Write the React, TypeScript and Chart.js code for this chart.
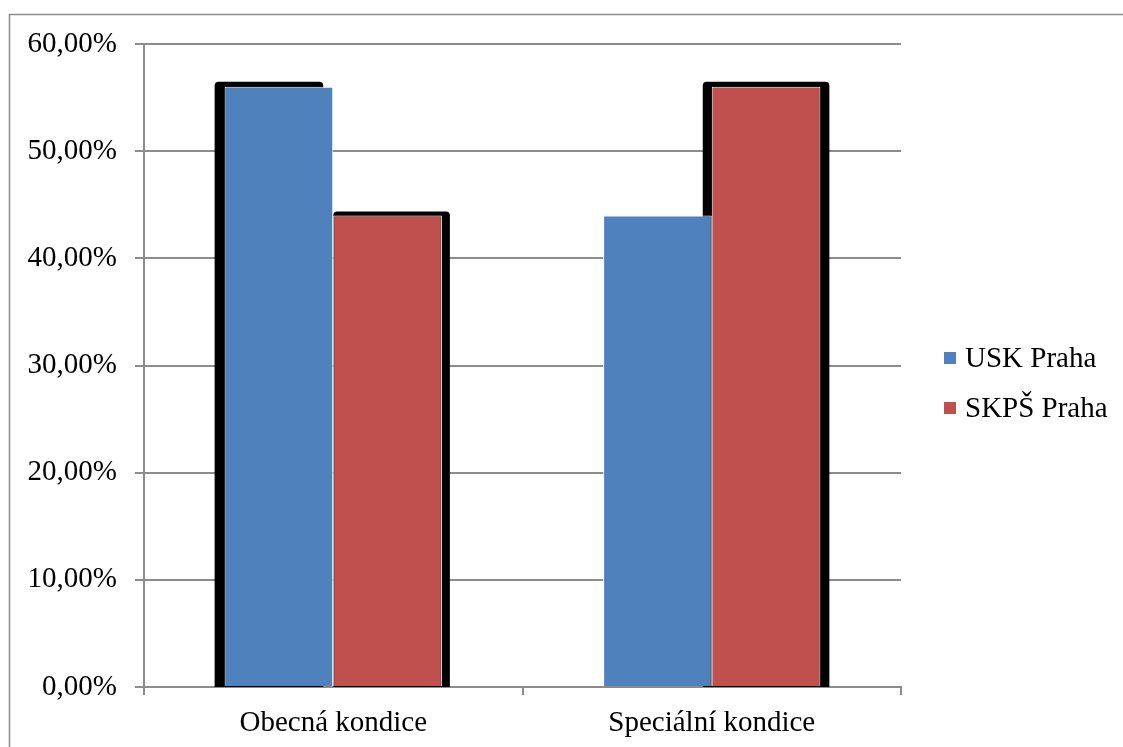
import React, { useEffect, useRef } from "react";
import { Chart, registerables } from "chart.js";

Chart.register(...registerables);

// Categories, series and axis ticks
const categories = ["Obecná kondice", "Speciální kondice"];
const uskPraha = [56, 44];
const skpsPraha = [44, 56];
const seriesLabels = ["USK Praha", "SKPŠ Praha"];
const yTicks = [0, 10, 20, 30, 40, 50, 60];

const BLUE = "#4F81BD";
const RED = "#C0504D";
const GRID = "#8c8c8c";
const FONT = "'Liberation Serif', 'Times New Roman', serif";

// Drop-shadow extents per series / category: [left grow, right grow, top grow] in px, null = no shadow
const shadowSpec: (number[] | null)[][] = [
  [[10, -10, 5], null],
  [[0, 8, 4], [9, 9, 5]],
];

function roundTopRect(ctx: CanvasRenderingContext2D, l: number, t: number, r: number, b: number, rad: number) {
  ctx.beginPath();
  ctx.moveTo(l, b);
  ctx.lineTo(l, t + rad);
  ctx.quadraticCurveTo(l, t, l + rad, t);
  ctx.lineTo(r - rad, t);
  ctx.quadraticCurveTo(r, t, r, t + rad);
  ctx.lineTo(r, b);
  ctx.closePath();
}

const shadowPlugin = {
  id: "barShadow",
  beforeDatasetsDraw(chart: any) {
    const ctx: CanvasRenderingContext2D = chart.ctx;
    ctx.save();
    ctx.fillStyle = "#000";
    chart.data.datasets.forEach((_: any, di: number) => {
      const meta = chart.getDatasetMeta(di);
      meta.data.forEach((el: any, i: number) => {
        const spec = shadowSpec[di][i];
        if (!spec) return;
        const p = el.getProps(["x", "y", "base", "width"], true);
        const l = p.x - p.width / 2 - spec[0];
        const r = p.x + p.width / 2 + spec[1];
        roundTopRect(ctx, l, p.y - spec[2], r, p.base + 1, 4);
        ctx.fill();
      });
    });
    ctx.restore();
  },
};

const framePlugin = {
  id: "frameAndLegend",
  afterDraw(chart: any) {
    const ctx: CanvasRenderingContext2D = chart.ctx;
    ctx.save();
    // outer frame
    ctx.strokeStyle = GRID;
    ctx.lineWidth = 1.5;
    ctx.strokeRect(9.5, 14.5, 1300, 900);
    // legend
    const ds = chart.data.datasets;
    ctx.font = `29px ${FONT}`;
    ctx.textBaseline = "middle";
    ctx.textAlign = "left";
    ds.forEach((d: any, i: number) => {
      const cy = 358 + i * 50;
      ctx.fillStyle = d.backgroundColor;
      ctx.fillRect(944, cy - 6, 12, 12);
      ctx.fillStyle = "#000";
      ctx.fillText(d.label, 965, cy + 1);
    });
    ctx.restore();
  },
};

export default function App() {
  const ref = useRef<HTMLCanvasElement>(null);

  useEffect(() => {
    if (!ref.current) return;
    const chart = new Chart(ref.current, {
      type: "bar",
      data: {
        labels: categories,
        datasets: [
          {
            label: seriesLabels[0],
            data: uskPraha,
            backgroundColor: BLUE,
            borderColor: "#ffffff",
            borderWidth: 1,
            categoryPercentage: 0.574,
            barPercentage: 1,
          },
          {
            label: seriesLabels[1],
            data: skpsPraha,
            backgroundColor: RED,
            borderColor: "#ffffff",
            borderWidth: 1,
            categoryPercentage: 0.574,
            barPercentage: 1,
          },
        ],
      },
      options: {
        responsive: false,
        animation: false,
        layout: { padding: { top: 44, right: 222, bottom: 0, left: 0 } },
        plugins: {
          legend: { display: false },
          tooltip: { enabled: false },
        },
        scales: {
          x: {
            offset: true,
            grid: {
              offset: true,
              drawOnChartArea: false,
              drawTicks: true,
              tickLength: 8,
              color: GRID,
              lineWidth: 2,
            },
            border: { display: true, color: GRID, width: 2 },
            ticks: {
              color: "#000",
              font: { family: FONT, size: 29 },
              padding: 11,
            },
            afterFit(scale: any) {
              scale.height = 60;
            },
          },
          y: {
            min: yTicks[0],
            max: yTicks[yTicks.length - 1],
            afterBuildTicks(scale: any) {
              scale.ticks = yTicks.map((v) => ({ value: v }));
            },
            grid: {
              color: GRID,
              lineWidth: 2,
              tickLength: 9,
            },
            border: { display: true, color: GRID, width: 2 },
            ticks: {
              color: "#000",
              font: { family: FONT, size: 29 },
              padding: 18,
              callback: (v: any) => Number(v).toFixed(2).replace(".", ",") + "%",
            },
            afterFit(scale: any) {
              scale.width = 144;
            },
          },
        },
      },
      plugins: [shadowPlugin, framePlugin],
    });
    return () => chart.destroy();
  }, []);

  return (
    <div style={{ position: "absolute", left: 0, top: 0, width: 1123, height: 747, background: "#fff" }}>
      <canvas ref={ref} width={1123} height={747} />
    </div>
  );
}
